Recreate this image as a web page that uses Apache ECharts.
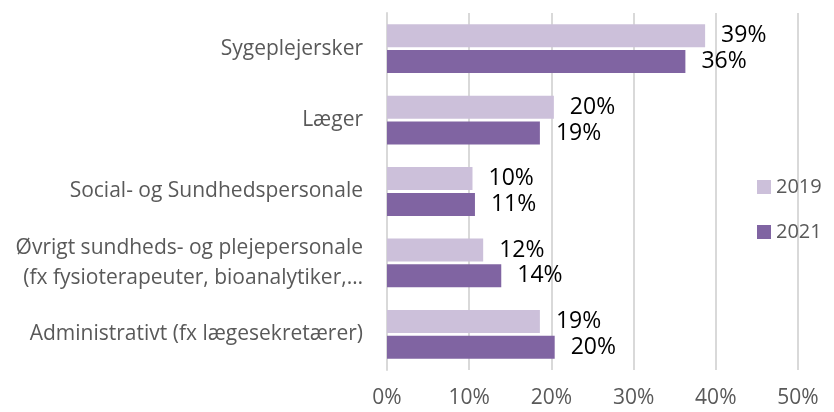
<!DOCTYPE html>
<html>
<head>
<meta charset="utf-8">
<script src="https://cdn.jsdelivr.net/npm/echarts@6/dist/echarts.min.js"></script>
<style>
  html, body { margin: 0; padding: 0; background: #fff; }
  #chart { width: 834px; height: 412px; }
</style>
</head>
<body>
<div id="chart"></div>
<script>
const categories = [
  "Sygeplejersker",
  "Læger",
  "Social- og Sundhedspersonale",
  "Øvrigt sundheds- og plejepersonale\n(fx fysioterapeuter, bioanalytiker,…",
  "Administrativt (fx lægesekretærer)"
];
const values2019 = [38.7, 20.3, 10.4, 11.7, 18.6];
const values2021 = [36.3, 18.6, 10.7, 13.9, 20.4];
const xTicks = [0, 10, 20, 30, 40, 50];

const font = "'Open Sans', 'Noto Sans', sans-serif";
const chart = echarts.init(document.getElementById("chart"));

const labelStyle = {
  show: true,
  position: "right",
  distance: 16,
  color: "#000",
  fontFamily: font,
  fontSize: 23,
  formatter: (p) => Math.round(p.value) + "%"
};

chart.setOption({
  animation: false,
  grid: { left: 387, right: 36, top: 13, bottom: 42 },
  legend: {
    orient: "vertical",
    left: 752,
    top: 172,
    icon: "rect",
    itemWidth: 14,
    itemHeight: 14,
    itemGap: 25,
    textStyle: { color: "#595959", fontFamily: font, fontSize: 20 },
    data: ["2019", "2021"]
  },
  xAxis: {
    type: "value",
    min: xTicks[0],
    max: xTicks[xTicks.length - 1],
    interval: 10,
    axisLine: { show: false },
    axisTick: { show: false },
    splitLine: { lineStyle: { color: "#d9d9d9", width: 2 } },
    axisLabel: {
      margin: 18,
      color: "#595959",
      fontFamily: font,
      fontSize: 21,
      formatter: "{value}%"
    }
  },
  yAxis: {
    type: "category",
    inverse: true,
    data: categories,
    axisLine: { show: true, lineStyle: { color: "#d9d9d9", width: 2 } },
    axisTick: { show: false },
    axisLabel: {
      margin: 24,
      color: "#595959",
      fontFamily: font,
      fontSize: 21,
      lineHeight: 30,
      align: "right"
    }
  },
  series: [
    {
      name: "2019",
      type: "bar",
      data: values2019,
      barWidth: 23,
      barGap: "12%",
      itemStyle: { color: "#ccc0da" },
      label: labelStyle
    },
    {
      name: "2021",
      type: "bar",
      data: values2021,
      barWidth: 23,
      barGap: "12%",
      itemStyle: { color: "#8064a2" },
      label: labelStyle
    }
  ]
});
</script>
</body>
</html>
